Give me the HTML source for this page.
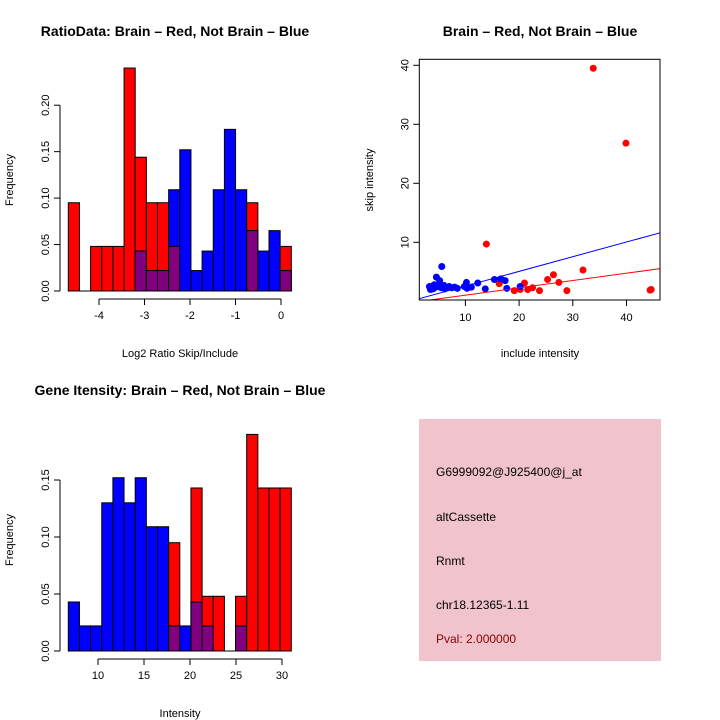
<!DOCTYPE html>
<html><head><meta charset="utf-8"><style>
body{margin:0;background:#fff}
svg{display:block;font-family:"Liberation Sans",Arial,sans-serif}
</style></head><body>
<svg id="s" width="720" height="720" viewBox="0 0 720 720">
<rect x="419" y="419" width="242" height="242" fill="#f1c3cd"/>
<g font-size="12" fill="#000">
<text x="436" y="476">G6999092@J925400@j_at</text>
<text x="436" y="521">altCassette</text>
<text x="436" y="565">Rnmt</text>
<text x="436" y="609">chr18.12365-1.11</text>
<text x="436" y="643" fill="#8b0000">Pval: 2.000000</text>
</g>
</svg>
<script>
// Top-left histogram data (bin frequencies)
const ratioRed = [0.095,0,0.048,0.048,0.048,0.24,0.144,0.095,0.095,0.048,0,0,0,0,0,0,0.095,0,0,0.048];
const ratioBlue = [0,0,0,0,0,0,0.043,0.022,0.022,0.109,0.152,0.022,0.043,0.109,0.174,0.109,0.065,0.043,0.065,0.022];
const ratioXTicks = [-4,-3,-2,-1,0];
const ratioYTicks = [0,0.05,0.10,0.15,0.20];
// Bottom-left histogram data
const intRed = [0,0,0,0,0,0,0,0,0,0.095,0,0.143,0.048,0.048,0,0.048,0.19,0.143,0.143,0.143];
const intBlue = [0.043,0.022,0.022,0.13,0.152,0.13,0.152,0.109,0.109,0.022,0.022,0.043,0.022,0,0,0.022,0,0,0,0];
const intXTicks = [10,15,20,25,30];
const intYTicks = [0,0.05,0.10,0.15];
// Scatter data
const redX = [13.9,33.8,39.9,44.4,44.6,31.9,26.4,25.3,27.4,28.9,23.8,22.5,21.6,21.0,20.2,19.1,16.3];
const redY = [9.7,39.5,26.8,1.9,2.0,5.3,4.5,3.7,3.2,1.8,1.8,2.3,2.0,3.1,2.0,1.8,3.0];
const blueX = [5.6,4.6,5.2,3.3,3.8,4.2,4.5,5.0,5.5,6.0,6.5,7.0,7.5,8.0,8.5,10.2,10.3,11.1,12.3,13.7,15.4,16.6,17.4,17.7,20.2,3.5,4.0,6.2,9.8];
const blueY = [5.9,4.1,3.5,2.5,2.2,2.8,2.4,2.6,2.3,2.7,2.4,2.5,2.3,2.4,2.2,3.2,2.2,2.4,3.1,2.1,3.7,3.8,3.5,2.2,2.5,2.0,2.1,2.1,2.5];
const scXTicks = [10,20,30,40];
const scYTicks = [10,20,30,40];
const redLine = [-0.2,0.124];
const blueLine = [0.09,0.249];

const NS="http://www.w3.org/2000/svg", S=document.getElementById('s');
function el(t,a,p){const e=document.createElementNS(NS,t);for(const k in a)e.setAttribute(k,a[k]);(p||S).appendChild(e);return e;}
function txt(x,y,s,o,p){const e=el('text',Object.assign({x:x,y:y,'font-size':11,'text-anchor':'middle'},o||{}),p);e.textContent=s;return e;}

function hist(cfg){
  const g=el('g',{});
  
  
  const xs=v=>cfg.x0px+(v-cfg.xv0)*cfg.xpx, ys=v=>cfg.base-v*cfg.ypx;
  const n=cfg.red.length, w=cfg.bw;
  for(let i=0;i<n;i++){
    const x=cfg.binStartPx+i*w, r=cfg.red[i], b=cfg.blue[i];
    if(r>0){const e=el('rect',{x:x,y:ys(r),width:w,height:r*cfg.ypx,fill:'#ff0000',stroke:'#000','stroke-width':1},g);
      }
    if(b>0){const e=el('rect',{x:x,y:ys(b),width:w,height:b*cfg.ypx,fill:'#0000ff',stroke:'#000','stroke-width':1},g);
      }
    if(r>0&&b>0){const m=Math.min(r,b);const e=el('rect',{x:x,y:ys(m),width:w,height:m*cfg.ypx,fill:'#800080',stroke:'#000','stroke-width':1},g);
      }
  }
  el('line',{x1:cfg.binStartPx,x2:cfg.binStartPx+n*w,y1:cfg.base,y2:cfg.base,stroke:'#000'},g);
  // x axis
  const xa=el('g',{},g);
  el('line',{x1:xs(cfg.xt[0]),x2:xs(cfg.xt[cfg.xt.length-1]),y1:cfg.axY,y2:cfg.axY,stroke:'#000'},xa);
  cfg.xt.forEach(t=>{el('line',{x1:xs(t),x2:xs(t),y1:cfg.axY,y2:cfg.axY+6,stroke:'#000'},xa);txt(xs(t),cfg.axY+20,String(t),{},xa);});
  const ya=el('g',{},g);
  const yt=cfg.yt;
  el('line',{x1:cfg.ayX,x2:cfg.ayX,y1:ys(yt[0]),y2:ys(yt[yt.length-1]),stroke:'#000'},ya);
  yt.forEach(t=>{el('line',{x1:cfg.ayX-6,x2:cfg.ayX,y1:ys(t),y2:ys(t),stroke:'#000'},ya);
    txt(0,0,t.toFixed(2),{transform:`translate(${cfg.ayX-11},${ys(t)}) rotate(-90)`},ya);});
}
hist({name:'ratio-histogram',red:ratioRed,blue:ratioBlue,binStartPx:68.3,bw:11.15,base:291,ypx:929,
  x0px:281,xv0:0,xpx:45.5,xt:ratioXTicks,axY:299,yt:ratioYTicks,ayX:60});
hist({name:'intensity-histogram',red:intRed,blue:intBlue,binStartPx:68.3,bw:11.15,base:651,ypx:1140,
  x0px:98,xv0:10,xpx:9.2,xt:intXTicks,axY:659,yt:intYTicks,ayX:60});

// titles and labels
const T=[[175,36,'RatioData: Brain – Red, Not Brain – Blue','title-ratio'],[540,36,'Brain – Red, Not Brain – Blue','title-scatter'],[180,395,'Gene Itensity: Brain – Red, Not Brain – Blue','title-intensity']];
T.forEach(t=>{const e=txt(t[0],t[1],t[2],{'font-size':14,'font-weight':'bold'});});
let e;
e=txt(180,357,'Log2 Ratio Skip/Include');
e=txt(0,0,'Frequency',{transform:'translate(13,180) rotate(-90)'});
e=txt(180,717,'Intensity');
e=txt(0,0,'Frequency',{transform:'translate(13,540) rotate(-90)'});
e=txt(540,357,'include intensity');
e=txt(0,0,'skip intensity',{transform:'translate(373,180) rotate(-90)'});

// scatter
(function(){
  const L=419.3,R=660,Tp=59.3,B=300;
  const xs=v=>411.7+v*5.37, ys=v=>301.3-v*5.9;
  const g=el('g',{});
  const cp=el('clipPath',{id:'cp'},g);el('rect',{x:L,y:Tp,width:R-L,height:B-Tp},cp);
  const pg=el('g',{'clip-path':'url(#cp)'},g);
  redX.forEach((x,i)=>{const c=el('circle',{cx:xs(x),cy:ys(redY[i]),r:3.5,fill:'#ff0000'},pg);});
  blueX.forEach((x,i)=>{const c=el('circle',{cx:xs(x),cy:ys(blueY[i]),r:3.5,fill:'#0000ff'},pg);});
  [[blueLine,'#0000ff','blue-fit-line'],[redLine,'#ff0000','red-fit-line']].forEach(l=>{
    const x1=0,x2=50;const ln=el('line',{x1:xs(x1),y1:ys(l[0][0]+l[0][1]*x1),x2:xs(x2),y2:ys(l[0][0]+l[0][1]*x2),stroke:l[1],'stroke-width':1},pg);
    });
  const bx=el('rect',{x:L,y:Tp,width:R-L,height:B-Tp,fill:'none',stroke:'#000'},g);
  scXTicks.forEach(t=>{el('line',{x1:xs(t),x2:xs(t),y1:B,y2:B+6,stroke:'#000'},g);txt(xs(t),B+21,String(t),{},g);});
  scYTicks.forEach(t=>{el('line',{x1:L-6,x2:L,y1:ys(t),y2:ys(t),stroke:'#000'},g);txt(0,0,String(t),{transform:`translate(${L-11},${ys(t)}) rotate(-90)`},g);});
})();
</script>
</body></html>
